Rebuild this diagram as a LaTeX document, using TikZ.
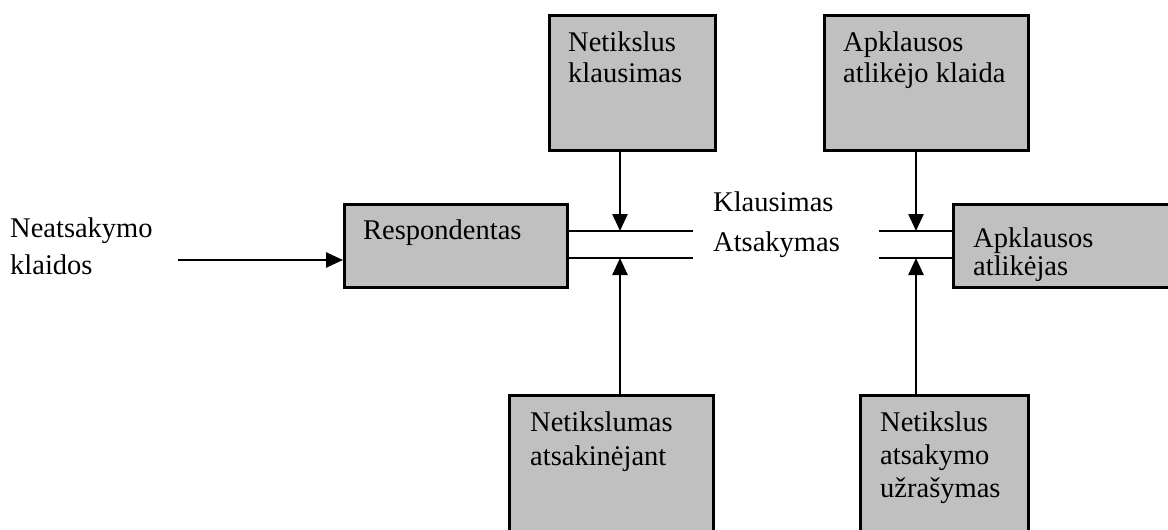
\documentclass[tikz,border=0pt]{standalone}
\usepackage{fontspec}
\setmainfont{Liberation Serif}
\usetikzlibrary{arrows.meta}
\definecolor{boxgray}{HTML}{C0C0C0}
\begin{document}
\begin{tikzpicture}[x=1pt,y=-1pt,
  box/.style={draw=black, line width=2.5pt, fill=boxgray, inner sep=0pt, anchor=north west},
  txt/.style={inner sep=0pt, anchor=north west, align=left},
  arr/.style={line width=2.5pt, -{Triangle[length=17pt,width=15pt]}},
  ln/.style={line width=2.5pt}]
\useasboundingbox (0,0) rectangle (1168,530);
\clip (0,0) rectangle (1168,530);
% boxes
\node[box, minimum width=223pt, minimum height=83pt] (resp) at (343,203) {};
\node[box, minimum width=166pt, minimum height=135pt] (top1) at (548,14) {};
\node[box, minimum width=204pt, minimum height=135pt] (top2) at (823,14) {};
\node[box, minimum width=228pt, minimum height=83pt] (appl) at (952,203) {};
\node[box, minimum width=204pt, minimum height=150pt] (bot1) at (508,394) {};
\node[box, minimum width=168pt, minimum height=150pt] (bot2) at (859,394) {};
% texts
\node[txt, font=\fontsize{28.5}{33}\selectfont] (respT) at (363,220) {Respondentas};
\node[txt, font=\fontsize{28.5}{31}\selectfont] (top1T) at (568,32) {Netikslus\\klausimas};
\node[txt, font=\fontsize{28.5}{31}\selectfont] (top2T) at (843,32) {Apklausos\\atlikėjo klaida};
\node[txt, font=\fontsize{28.5}{28}\selectfont] (applT) at (973,228) {Apklausos\\atlikėjas};
\node[txt, font=\fontsize{28.5}{34}\selectfont] (bot1T) at (530,412) {Netikslumas\\atsakinėjant};
\node[txt, font=\fontsize{28.5}{33}\selectfont] (bot2T) at (880,412) {Netikslus\\atsakymo\\užrašymas};
\node[txt, font=\fontsize{28.5}{37}\selectfont] (srcT) at (10,218) {Neatsakymo\\klaidos};
\node[txt, font=\fontsize{28.5}{33}\selectfont] (klT) at (713,192) {Klausimas};
\node[txt, font=\fontsize{28.5}{33}\selectfont] (atT) at (713,232) {Atsakymas};
% coordinates
\coordinate (qL) at (693,231);
\coordinate (aL) at (693,258);
\coordinate (qR) at (879,231);
\coordinate (aR) at (879,258);
\coordinate (jqL) at (620,231);
\coordinate (jaL) at (620,258);
\coordinate (jqR) at (916,231);
\coordinate (jaR) at (916,258);
\coordinate (src) at (178,260);
% channel lines
\draw[ln] (resp.east |- qL) -- (qL);
\draw[ln] (resp.east |- aL) -- (aL);
\draw[ln] (qR) -- (appl.west |- qR);
\draw[ln] (aR) -- (appl.west |- aR);
% arrows
\draw[arr] (src) -- (resp.west |- src);
\draw[arr] (top1.south -| jqL) -- (jqL);
\draw[arr] (bot1.north -| jaL) -- (jaL);
\draw[arr] (top2.south -| jqR) -- (jqR);
\draw[arr] (bot2.north -| jaR) -- (jaR);
\end{tikzpicture}
\end{document}
